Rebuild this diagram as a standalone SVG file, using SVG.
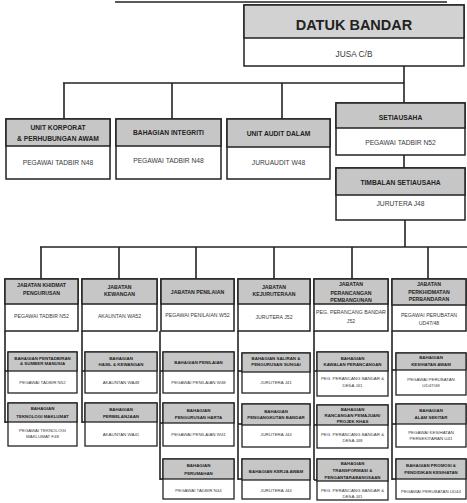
<svg xmlns="http://www.w3.org/2000/svg" width="467" height="503" viewBox="0 0 467 503">
<style>
rect{stroke:#222;stroke-width:1.5}
.hd{fill:#c6c6c6}
.bd{fill:#fff}
.s rect{stroke-width:1.3}
text{font-family:"Liberation Sans",Arial,sans-serif;text-anchor:middle;fill:#222}
.h{font-weight:bold}
.b{fill:#3a3a3a}
.t2 text{font-size:6.7px}
.t3 text{font-size:5.2px}
.s text{font-size:4.4px}
#connectors line{stroke:#222;stroke-width:1.6}
</style>
<g id="connectors">
<line x1="115" y1="2" x2="447" y2="2"/>
<line x1="404" y1="66" x2="404" y2="103"/>
<line x1="63" y1="83" x2="404" y2="83"/>
<line x1="64" y1="83" x2="64" y2="119"/>
<line x1="172" y1="83" x2="172" y2="119"/>
<line x1="282" y1="83" x2="282" y2="119"/>
<line x1="404" y1="155" x2="404" y2="168"/>
<line x1="405" y1="220" x2="405" y2="247"/>
<line x1="40" y1="247" x2="467" y2="247"/>
<line x1="41" y1="247" x2="41" y2="279"/>
<line x1="119" y1="247" x2="119" y2="279"/>
<line x1="196" y1="247" x2="196" y2="279"/>
<line x1="274" y1="247" x2="274" y2="279"/>
<line x1="352" y1="247" x2="352" y2="279"/>
<line x1="428" y1="247" x2="428" y2="279"/>
<line x1="5" y1="331" x2="5" y2="423"/>
<line x1="82" y1="331" x2="82" y2="423"/>
<line x1="160" y1="331" x2="160" y2="480"/>
<line x1="238" y1="331" x2="238" y2="480"/>
<line x1="314" y1="331" x2="314" y2="480"/>
<line x1="392" y1="331" x2="392" y2="480"/>
<line x1="5" y1="371" x2="8" y2="371"/><line x1="5" y1="422" x2="8" y2="422"/>
<line x1="82" y1="371" x2="85" y2="371"/><line x1="82" y1="422" x2="85" y2="422"/>
<line x1="160" y1="371" x2="163" y2="371"/><line x1="160" y1="423" x2="163" y2="423"/><line x1="160" y1="479" x2="163" y2="479"/>
<line x1="238" y1="371" x2="242" y2="371"/><line x1="238" y1="424" x2="242" y2="424"/><line x1="238" y1="479" x2="242" y2="479"/>
<line x1="314" y1="371" x2="317" y2="371"/><line x1="314" y1="425" x2="317" y2="425"/><line x1="314" y1="480" x2="317" y2="480"/>
<line x1="392" y1="370" x2="396" y2="370"/><line x1="392" y1="424" x2="396" y2="424"/><line x1="392" y1="479" x2="396" y2="479"/>
</g>

<g id="datuk-bandar">
<rect class="bd" x="244" y="5" width="220" height="61"/>
<rect class="hd" x="244" y="5" width="220" height="33" style="fill:#d2d2d2"/>
<text class="h" x="354" y="29.5" style="font-size:14.5px">DATUK BANDAR</text>
<text class="b" x="354" y="57" style="font-size:8.3px">JUSA C/B</text>
</g>

<g id="unit-korporat" class="t2">
<rect class="bd" x="6" y="119" width="104" height="60"/>
<rect class="hd" x="6" y="119" width="104" height="27"/>
<text class="h" x="58" y="129.5">UNIT KORPORAT</text>
<text class="h" x="58" y="140.5">&amp; PERHUBUNGAN AWAM</text>
<text class="b" x="58" y="164.5">PEGAWAI TADBIR N48</text>
</g>
<g id="bahagian-integriti" class="t2">
<rect class="bd" x="116" y="119" width="105" height="60"/>
<rect class="hd" x="116" y="119" width="105" height="27"/>
<text class="h" x="168.5" y="134.5">BAHAGIAN INTEGRITI</text>
<text class="b" x="168.5" y="162.5">PEGAWAI TADBIR N48</text>
</g>
<g id="unit-audit" class="t2">
<rect class="bd" x="227" y="119" width="103" height="60"/>
<rect class="hd" x="227" y="119" width="103" height="28"/>
<text class="h" x="278.5" y="135.5">UNIT AUDIT DALAM</text>
<text class="b" x="278.5" y="165">JURUAUDIT W48</text>
</g>
<g id="setiausaha" class="t2">
<rect class="bd" x="336" y="103" width="129" height="52"/>
<rect class="hd" x="336" y="103" width="129" height="25"/>
<text class="h" x="400.5" y="120">SETIAUSAHA</text>
<text class="b" x="400.5" y="145">PEGAWAI TADBIR N52</text>
</g>
<g id="timbalan-setiausaha" class="t2">
<rect class="bd" x="336" y="168" width="129" height="52"/>
<rect class="hd" x="336" y="168" width="129" height="27"/>
<text class="h" x="400.5" y="185">TIMBALAN SETIAUSAHA</text>
<text class="b" x="400.5" y="206">JURUTERA J48</text>
</g>

<g id="jabatan-khidmat-pengurusan" class="t3">
<rect class="bd" x="5" y="279" width="73" height="52"/>
<rect class="hd" x="5" y="279" width="73" height="25"/>
<text class="h" x="41.5" y="287">JABATAN KHIDMAT</text>
<text class="h" x="41.5" y="295">PENGURUSAN</text>
<text class="b" x="41.5" y="318">PEGAWAI TADBIR N52</text>
</g>
<g id="jabatan-kewangan" class="t3">
<rect class="bd" x="82" y="279" width="75" height="52"/>
<rect class="hd" x="82" y="279" width="75" height="25"/>
<text class="h" x="119.5" y="289">JABATAN</text>
<text class="h" x="119.5" y="296">KEWANGAN</text>
<text class="b" x="119.5" y="318">AKAUNTAN WA52</text>
</g>
<g id="jabatan-penilaian" class="t3">
<rect class="bd" x="161" y="279" width="73" height="52"/>
<rect class="hd" x="161" y="279" width="73" height="25"/>
<text class="h" x="197.5" y="294">JABATAN PENILAIAN</text>
<text class="b" x="197.5" y="317">PEGAWAI PENILAIAN W52</text>
</g>
<g id="jabatan-kejuruteraan" class="t3">
<rect class="bd" x="238" y="279" width="72" height="52"/>
<rect class="hd" x="238" y="279" width="72" height="25"/>
<text class="h" x="274" y="289">JABATAN</text>
<text class="h" x="274" y="296">KEJURUTERAAN</text>
<text class="b" x="274" y="319">JURUTERA J52</text>
</g>
<g id="jabatan-perancangan" class="t3">
<rect class="bd" x="314" y="279" width="74" height="52"/>
<rect class="hd" x="314" y="279" width="74" height="25"/>
<text class="h" x="351" y="286">JABATAN</text>
<text class="h" x="351" y="294.5">PERANCANGAN</text>
<text class="h" x="351" y="302">PEMBANGUNAN</text>
<text class="b" x="351" y="314">PEG. PERANCANG BANDAR</text>
<text class="b" x="351" y="322.5">J52</text>
</g>
<g id="jabatan-perkhidmatan-perbandaran" class="t3">
<rect class="bd" x="392" y="279" width="74" height="52"/>
<rect class="hd" x="392" y="279" width="74" height="26"/>
<text class="h" x="429" y="286">JABATAN</text>
<text class="h" x="429" y="294">PERKHIDMATAN</text>
<text class="h" x="429" y="301">PERBANDARAN</text>
<text class="b" x="429" y="317">PEGAWAI PERUBATAN</text>
<text class="b" x="429" y="325">UD47/48</text>
</g>

<g id="bhg-pentadbiran" class="s">
<rect class="bd" x="8" y="352" width="69" height="41"/>
<rect class="hd" x="8" y="352" width="69" height="19"/>
<text class="h" x="42.5" y="359.5">BAHAGIAN PENTADBIRAN</text>
<text class="h" x="42.5" y="365">&amp; SUMBER MANUSIA</text>
<text class="b" x="42.5" y="383.5">PEGAWAI TADBIR N52</text>
</g>
<g id="bhg-teknologi-maklumat" class="s">
<rect class="bd" x="8" y="403" width="69" height="43"/>
<rect class="hd" x="8" y="403" width="69" height="19"/>
<text class="h" x="42.5" y="410">BAHAGIAN</text>
<text class="h" x="42.5" y="417.5">TEKNOLOGI MAKLUMAT</text>
<text class="b" x="42.5" y="431.5">PEGAWAI TEKNOLOGI</text>
<text class="b" x="42.5" y="438">MAKLUMAT F48</text>
</g>
<g id="bhg-hasil-kewangan" class="s">
<rect class="bd" x="85" y="352" width="72" height="41"/>
<rect class="hd" x="85" y="352" width="72" height="19"/>
<text class="h" x="121" y="359.5">BAHAGIAN</text>
<text class="h" x="121" y="365.5">HASIL &amp; KEWANGAN</text>
<text class="b" x="121" y="383.5">AKAUNTAN WA48</text>
</g>
<g id="bhg-perbelanjaan" class="s">
<rect class="bd" x="85" y="403" width="72" height="43"/>
<rect class="hd" x="85" y="403" width="72" height="19"/>
<text class="h" x="121" y="411">BAHAGIAN</text>
<text class="h" x="121" y="417.5">PERBELANJAAN</text>
<text class="b" x="121" y="436">AKAUNTAN WA41</text>
</g>
<g id="bhg-penilaian" class="s">
<rect class="bd" x="163" y="352" width="71" height="41"/>
<rect class="hd" x="163" y="352" width="71" height="19"/>
<text class="h" x="198.5" y="363.5">BAHAGIAN PENILAIAN</text>
<text class="b" x="198.5" y="383.5">PEGAWAI PENILAIAN W48</text>
</g>
<g id="bhg-pengurusan-harta" class="s">
<rect class="bd" x="163" y="403" width="71" height="43"/>
<rect class="hd" x="163" y="403" width="71" height="20"/>
<text class="h" x="198.5" y="412">BAHAGIAN</text>
<text class="h" x="198.5" y="418.5">PENGURUSAN HARTA</text>
<text class="b" x="198.5" y="436">PEGAWAI PENILAIAN W41</text>
</g>
<g id="bhg-perumahan" class="s">
<rect class="bd" x="163" y="459" width="71" height="40"/>
<rect class="hd" x="163" y="459" width="71" height="20"/>
<text class="h" x="198.5" y="467">BAHAGIAN</text>
<text class="h" x="198.5" y="474.5">PERUMAHAN</text>
<text class="b" x="198.5" y="492">PEGAWAI TADBIR N44</text>
</g>
<g id="bhg-saliran" class="s">
<rect class="bd" x="242" y="353" width="68" height="40"/>
<rect class="hd" x="242" y="353" width="68" height="19"/>
<text class="h" x="276" y="359.5">BAHAGIAN SALIRAN &amp;</text>
<text class="h" x="276" y="365.5">PENGURUSAN SUNGAI</text>
<text class="b" x="276" y="383.5">JURUTERA J41</text>
</g>
<g id="bhg-pengangkutan-bandar" class="s">
<rect class="bd" x="242" y="404" width="68" height="43"/>
<rect class="hd" x="242" y="404" width="68" height="21"/>
<text class="h" x="276" y="412.5">BAHAGIAN</text>
<text class="h" x="276" y="419">PENGANGKUTAN BANDAR</text>
<text class="b" x="276" y="436">JURUTERA J44</text>
</g>
<g id="bhg-kerja-awam" class="s">
<rect class="bd" x="242" y="459" width="68" height="40"/>
<rect class="hd" x="242" y="459" width="68" height="21"/>
<text class="h" x="276" y="472.5">BAHAGIAN KERJA AWAM</text>
<text class="b" x="276" y="492">JURUTERA J44</text>
</g>
<g id="bhg-kawalan-perancangan" class="s">
<rect class="bd" x="317" y="352" width="71" height="44"/>
<rect class="hd" x="317" y="352" width="71" height="19"/>
<text class="h" x="352.5" y="359.5">BAHAGIAN</text>
<text class="h" x="352.5" y="365.5">KAWALAN PERANCANGAN</text>
<text class="b" x="352.5" y="379.5">PEG. PERANCANG BANDAR &amp;</text>
<text class="b" x="352.5" y="386.5">DESA J41</text>
</g>
<g id="bhg-rancangan-pemajuan" class="s">
<rect class="bd" x="317" y="405" width="71" height="43"/>
<rect class="hd" x="317" y="405" width="71" height="20"/>
<text class="h" x="352.5" y="410.5">BAHAGIAN</text>
<text class="h" x="352.5" y="416.5">RANCANGAN PEMAJUAN/</text>
<text class="h" x="352.5" y="422.5">PROJEK KHAS</text>
<text class="b" x="352.5" y="435.5">PEG. PERANCANG BANDAR &amp;</text>
<text class="b" x="352.5" y="442">DESA J48</text>
</g>
<g id="bhg-transformasi" class="s">
<rect class="bd" x="317" y="459" width="71" height="41"/>
<rect class="hd" x="317" y="459" width="71" height="22"/>
<text class="h" x="352.5" y="464.5">BAHAGIAN</text>
<text class="h" x="352.5" y="471.5">TRANSFORMASI &amp;</text>
<text class="h" x="352.5" y="478.5">PENGANTARABANGSAAN</text>
<text class="b" x="352.5" y="491.5">PEG. PERANCANG BANDAR &amp;</text>
<text class="b" x="352.5" y="497.5">DESA J41</text>
</g>
<g id="bhg-kesihatan-awam" class="s">
<rect class="bd" x="396" y="353" width="70" height="42"/>
<rect class="hd" x="396" y="353" width="70" height="17"/>
<text class="h" x="431" y="359">BAHAGIAN</text>
<text class="h" x="431" y="366">KESIHATAN AWAM</text>
<text class="b" x="431" y="380.5">PEGAWAI PERUBATAN</text>
<text class="b" x="431" y="386.5">UD47/48</text>
</g>
<g id="bhg-alam-sekitar" class="s">
<rect class="bd" x="396" y="404" width="70" height="43"/>
<rect class="hd" x="396" y="404" width="70" height="20"/>
<text class="h" x="431" y="411.5">BAHAGIAN</text>
<text class="h" x="431" y="418.5">ALAM SEKITAR</text>
<text class="b" x="431" y="433.5">PEGAWAI KESIHATAN</text>
<text class="b" x="431" y="440">PERSEKITARAN U41</text>
</g>
<g id="bhg-promosi" class="s">
<rect class="bd" x="396" y="459" width="70" height="40"/>
<rect class="hd" x="396" y="459" width="70" height="20"/>
<text class="h" x="431" y="466.5">BAHAGIAN PROMOSI &amp;</text>
<text class="h" x="431" y="473.5">PENDIDIKAN KESIHATAN</text>
<text class="b" x="431" y="492.5">PEGAWAI PERUBATAN UD44</text>
</g>
</svg>
